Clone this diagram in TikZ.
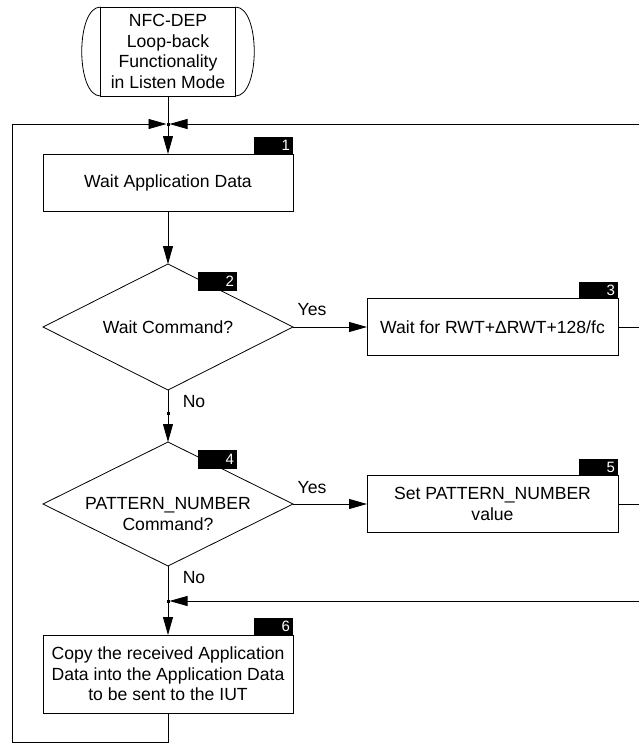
\documentclass[tikz,border=0pt]{standalone}
\usepackage{fontspec}
\setmainfont{Liberation Sans}
\usetikzlibrary{shapes.geometric,arrows.meta}
\begin{document}
\begin{tikzpicture}[x=1pt,y=-1pt,line width=0.8pt,
  >={Triangle[length=18pt 0,width=10pt 0]},
  every node/.style={outer sep=0pt},
  txt/.style={font=\fontsize{17.6}{20.5}\selectfont,align=center,inner sep=0pt},
  proc/.style={draw,txt,minimum width=250pt,minimum height=57pt},
  dec/.style={draw,diamond,aspect=2,txt,minimum width=250pt},
  tag/.style={fill=black,text=white,font=\fontsize{15}{15}\selectfont,minimum height=#1,
    text width=33pt,align=right,inner xsep=3pt,inner ysep=0pt,anchor=south east},
  tag/.default=17pt,
  jdot/.style={fill=black}]
\useasboundingbox (0,0) rectangle (639,745);
\clip (0,0) rectangle (639,745);
% terminator
\node[draw,txt,minimum width=135pt,minimum height=89pt] (term) at (168,51.5)
  {NFC-DEP\\Loop-back\\Functionality\\in Listen Mode};
\draw (term.north west) .. controls +(-25,0) and +(-25,0) .. (term.south west);
\draw (term.north east) .. controls +(25,0) and +(25,0) .. (term.south east);
% steps
\node[proc] (b1) at (168,182.5) {Wait Application Data};
\node[dec,minimum height=126pt] (d2) at (168,327) {Wait Command?};
\node[proc,minimum width=251pt] (b3) at (492.5,327) {Wait for RWT+ΔRWT+128/fc};
\node[dec,minimum height=124pt] (d4) at (168,504) {};
\node[txt] (d4t) at (168,514) {PATTERN\_NUMBER\\Command?};
\node[proc,minimum width=251pt] (b5) at (492.5,504) {Set PATTERN\_NUMBER\\value};
\node[proc,minimum height=78pt] (b6) at (168,674) {Copy the received Application\\Data into the Application Data\\to be sent to the IUT};
% junctions
\coordinate (j1) at (168,124);
\coordinate (j2) at (168,601);
\coordinate (m1) at (168,413);
% connectors
\draw[->] (term.south) -- (b1.north);
\draw[->] (b1.south) -- (d2.north);
\draw[->] (d2.east) -- (b3.west);
\draw[->] (d2.south) -- (d4.north);
\draw[->] (d4.east) -- (b5.west);
\draw[->] (d4.south) -- (b6.north);
\draw[->,shorten >=1.5pt] (b6.south) -- ++(0,29) -- ++(-156,0) |- (j1);
\draw[->,shorten >=1.5pt] (b3.east) -- ++(32,0) |- (j1);
\draw[->,shorten >=1.5pt] (b5.east) -- ++(32,0) |- (j2);
\fill[jdot] (j1) ++(-1.5,-1.5) rectangle ++(3,3);
\fill[jdot] (j2) ++(-1.5,-1.5) rectangle ++(3,3);
\fill[jdot] (m1) ++(-1.5,-1.5) rectangle ++(3,3);
% branch labels
\node[txt] (y1) at (312,310) {Yes};
\node[txt] (y2) at (312,488) {Yes};
\node[txt] (n1) at (194,402) {No};
\node[txt] (n2) at (194,578) {No};
% step numbers
\node[tag] (t1) at (b1.north east) {1};
\node[tag=19pt] (t2) at (237,291) {2};
\node[tag] (t3) at (b3.north east) {3};
\node[tag=19pt] (t4) at (237,469) {4};
\node[tag] (t5) at (b5.north east) {5};
\node[tag] (t6) at (b6.north east) {6};
\end{tikzpicture}
\end{document}
